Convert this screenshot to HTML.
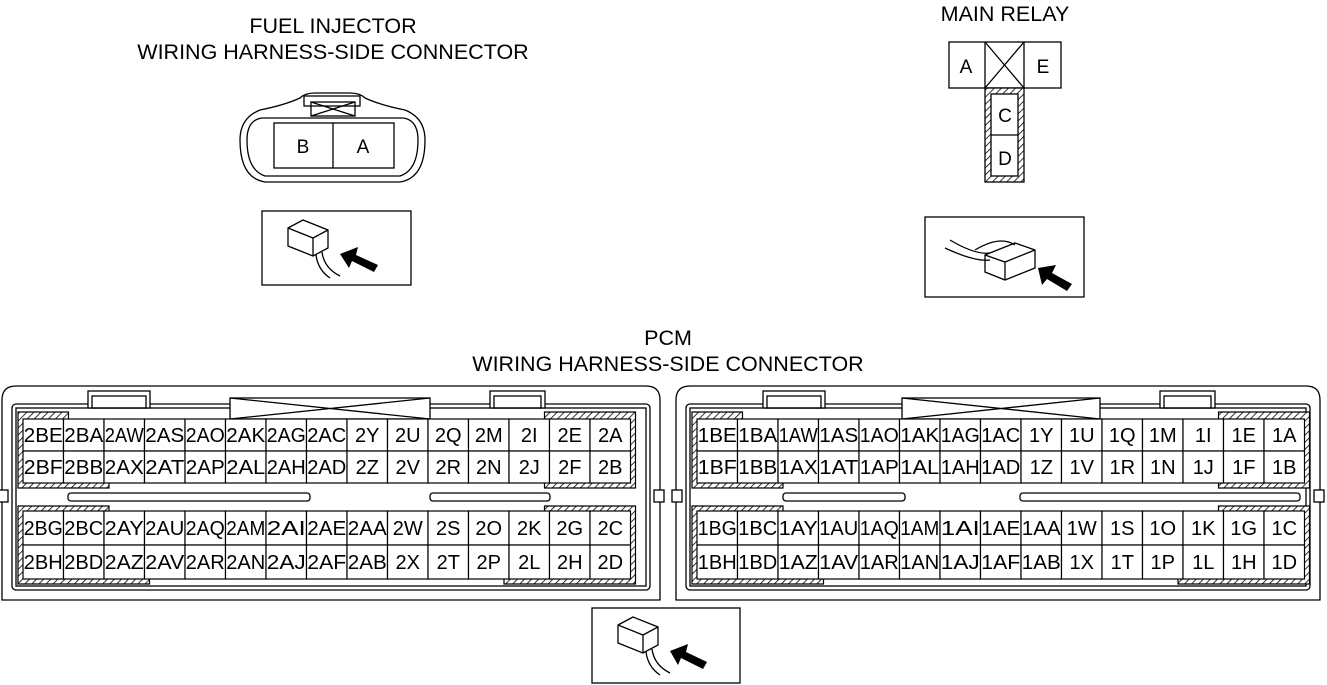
<!DOCTYPE html>
<html><head><meta charset="utf-8"><style>
html,body{margin:0;padding:0;background:#fff;}
svg{display:block;font-family:"Liberation Sans",Arial,sans-serif;}
</style></head><body>
<svg id="s" width="1327" height="685" viewBox="0 0 1327 685" xmlns="http://www.w3.org/2000/svg">
<defs>
<pattern id="h" width="5" height="5" patternUnits="userSpaceOnUse" patternTransform="rotate(45)">
<rect width="5" height="5" fill="#fff"/><line x1="0" y1="0" x2="0" y2="5" stroke="#000" stroke-width="1.6"/>
</pattern>
</defs>
<g fill="#000" font-size="21.5" text-anchor="middle">
<text x="333" y="33">FUEL INJECTOR</text>
<text x="333" y="59">WIRING HARNESS-SIDE CONNECTOR</text>
<text x="1005" y="21">MAIN RELAY</text>
<text x="668" y="345">PCM</text>
<text x="668" y="371">WIRING HARNESS-SIDE CONNECTOR</text>
</g>
<g fill="none" stroke="#000" stroke-width="1.3">
<path d="M300,98 Q305,93 315,93 L350,93 Q360,93 365,98 Q380,105 405,110 Q425,118 425,140 Q425,178 400,182 L265,182 Q240,178 240,140 Q240,118 260,110 Q285,105 300,98 Z"/>
<path d="M262,118 L403,118 Q418,120 418,140 Q418,170 400,176 L265,176 Q247,170 247,140 Q247,120 262,118 Z"/>
<rect x="304" y="96" width="56" height="10"/>
<rect x="311" y="102" width="44" height="14"/><line x1="311" y1="102" x2="355" y2="116"/><line x1="355" y1="102" x2="311" y2="116"/>
<rect x="274" y="123" width="120" height="45"/><line x1="333" y1="123" x2="333" y2="168"/>
<rect x="262" y="211" width="149" height="74"/>
<rect x="925" y="217" width="159" height="80"/>
<rect x="592" y="608" width="148" height="75"/>
</g>
<g font-size="19" text-anchor="middle"><text x="303" y="153">B</text><text x="363" y="153">A</text></g>
<g fill="none" stroke="#000" stroke-width="1.3">
<path d="M288,228 L303,220 L328,230 L328,248 L313,256 L288,246 Z M288,228 L313,238 L328,230 M313,238 L313,256"/>
<path d="M316,255 Q318,270 330,278 M322,252 Q324,268 340,276"/>
<path d="M950,240 Q975,255 990,253 M945,248 Q975,262 990,260 M975,250 Q1000,235 1015,245"/>
<path d="M985,255 L1015,243 L1035,250 L1035,268 L1005,280 L985,272 Z M985,255 L1005,262 L1035,250 M1005,262 L1005,280"/>
<path d="M618,625 L633,617 L658,627 L658,645 L643,653 L618,643 Z M618,625 L643,635 L658,627 M643,635 L643,653"/>
<path d="M646,652 Q648,667 660,675 M652,649 Q654,665 670,673"/>
</g>
<g fill="#000">
<polygon points="340,254 358,247 356,255 378,265 374,272 352,261 349,268"/>
<polygon points="1038,268 1056,265 1052,273 1072,284 1067,291 1047,279 1042,285"/>
<polygon points="670,651 688,644 686,652 707,662 703,669 681,658 678,665"/>
</g>
<g fill="none" stroke="#000" stroke-width="1.3">
<rect x="949" y="42" width="112" height="46"/><line x1="985" y1="42" x2="985" y2="88"/><line x1="1024" y1="42" x2="1024" y2="88"/>
<line x1="985" y1="42" x2="1024" y2="88"/><line x1="1024" y1="42" x2="985" y2="88"/>
</g>
<rect x="985" y="88" width="39" height="94" fill="url(#h)" stroke="#000" stroke-width="1.3"/>
<rect x="991" y="94" width="27" height="82" fill="#fff" stroke="#000" stroke-width="1.3"/>
<line x1="991" y1="135" x2="1018" y2="135" stroke="#000" stroke-width="1.3"/>
<g font-size="19" text-anchor="middle"><text x="966" y="73">A</text><text x="1043" y="73">E</text><text x="1005" y="122">C</text><text x="1005" y="165">D</text></g>
<g id="pcm"></g>
</svg>
<script>
var NS="http://www.w3.org/2000/svg",g=document.getElementById('pcm');
function el(t,a,txt){var e=document.createElementNS(NS,t);for(var k in a)e.setAttribute(k,a[k]);if(txt)e.textContent=txt;g.appendChild(e);return e;}
var rows=[["BE","BA","AW","AS","AO","AK","AG","AC","Y","U","Q","M","I","E","A"],
["BF","BB","AX","AT","AP","AL","AH","AD","Z","V","R","N","J","F","B"],
["BG","BC","AY","AU","AQ","AM","AI","AE","AA","W","S","O","K","G","C"],
["BH","BD","AZ","AV","AR","AN","AJ","AF","AB","X","T","P","L","H","D"]];
var ry=[419,451,483,511,545,579];
function pcm(ox,p,slots,tabs,cross,R,x0){
 var s={fill:"none",stroke:"#000","stroke-width":1.3};
 el('path',Object.assign({d:"M"+(ox+2)+",600 L"+(ox+2)+",400 Q"+(ox+2)+",386 "+(ox+16)+",386 L"+(ox+R-14)+",386 Q"+(ox+R)+",386 "+(ox+R)+",400 L"+(ox+R)+",600 Z"},s));
 el('rect',Object.assign({x:ox+12,y:404,width:R-22,height:186,rx:4},s));
 el('rect',Object.assign({x:ox+16,y:408,width:R-30,height:178},s));
 el('rect',Object.assign({x:ox-2,y:490,width:10,height:12,fill:"#fff",stroke:"#000","stroke-width":1.3}));
 el('rect',Object.assign({x:ox+R-6,y:490,width:10,height:12,fill:"#fff",stroke:"#000","stroke-width":1.3}));
 tabs.forEach(function(t){el('rect',Object.assign({x:ox+t[0],y:391,width:t[1]-t[0],height:17,fill:"#fff",stroke:"#000","stroke-width":1.3}));el('rect',Object.assign({x:ox+t[0]+4,y:396,width:t[1]-t[0]-8,height:12},s));});
 el('rect',Object.assign({x:ox+cross[0],y:398,width:cross[1]-cross[0],height:21,fill:"#fff",stroke:"#000","stroke-width":1.3}));
 el('path',Object.assign({d:"M"+(ox+cross[0])+",398 L"+(ox+cross[1])+",419 M"+(ox+cross[1])+",398 L"+(ox+cross[0])+",419"},s));
 slots.forEach(function(t){el('rect',Object.assign({x:ox+t[0],y:493,width:t[1]-t[0],height:8,rx:3},s));});
 var w=40.5;
 function X(c){return x0+c*w;}
 var H=function(d){el('path',{d:d,fill:"url(#h)",stroke:"#000","stroke-width":1.2});};
 var e=5;
 H("M"+(X(0)-e)+","+(ry[0]-7)+" L"+(X(1)+e)+","+(ry[0]-7)+" L"+(X(1)+e)+","+(ry[1]-e)+" L"+(X(2)+e)+","+(ry[1]-e)+" L"+(X(2)+e)+","+(ry[2]+e)+" L"+(X(0)-e)+","+(ry[2]+e)+" Z");
 H("M"+(X(13)-e)+","+(ry[0]-7)+" L"+(X(15)+e)+","+(ry[0]-7)+" L"+(X(15)+e)+","+(ry[2]+e)+" L"+(X(13)-e)+","+(ry[2]+e)+" Z");
 H("M"+(X(0)-e)+","+(ry[3]-e)+" L"+(X(2)+e)+","+(ry[3]-e)+" L"+(X(2)+e)+","+(ry[4]-e)+" L"+(X(3)+e)+","+(ry[4]-e)+" L"+(X(3)+e)+","+(ry[5]+e)+" L"+(X(0)-e)+","+(ry[5]+e)+" Z");
 H("M"+(X(13)-e)+","+(ry[3]-e)+" L"+(X(15)+e)+","+(ry[3]-e)+" L"+(X(15)+e)+","+(ry[5]+e)+" L"+(X(12)-e)+","+(ry[5]+e)+" L"+(X(12)-e)+","+(ry[4]-e)+" L"+(X(13)-e)+","+(ry[4]-e)+" Z");
 var rr=[[0,1],[1,2],[3,4],[4,5]];
 for(var r=0;r<4;r++){var y0=ry[rr[r][0]],y1=ry[rr[r][1]];
  for(var c=0;c<15;c++){
   el('rect',{x:X(c),y:y0,width:w,height:y1-y0,fill:"#fff",stroke:"#000","stroke-width":1.2});
   var t=el('text',{x:X(c)+w/2,y:(y0+y1)/2+7,"font-size":20,"text-anchor":"middle"},p+rows[r][c]);
   if((p+rows[r][c]).length>=3){t.setAttribute('textLength',39);t.setAttribute('lengthAdjust','spacingAndGlyphs');}
  }}
}
pcm(0,"2",[[68,310],[430,550]],[[88,150],[490,545]],[230,430],660,23);
pcm(674,"1",[[109,231],[346,626]],[[89,151],[486,541]],[228,426],646,697);
</script>
</body></html>
